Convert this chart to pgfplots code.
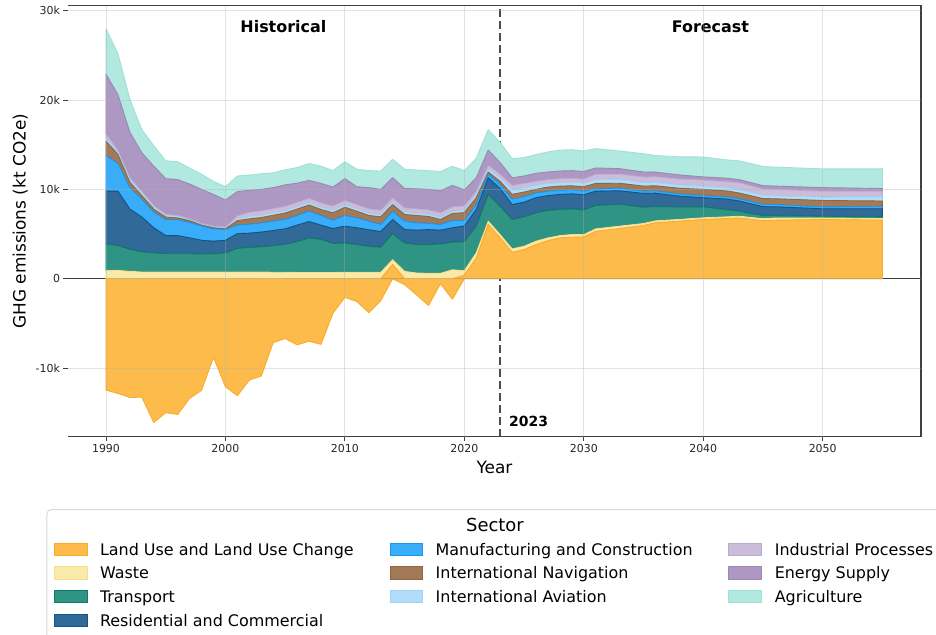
\documentclass[border=0pt]{standalone}
\usepackage{fontspec}
\setmainfont{DejaVu Sans}
\usepackage{pgfplots}
\usepackage{pgfplotstable}
\pgfplotsset{compat=1.18}

\definecolor{cL}{HTML}{FDBB4B}\definecolor{eL}{HTML}{F9AC2A}
\definecolor{cW}{HTML}{F9EAAA}\definecolor{eW}{HTML}{F5E08C}
\definecolor{cT}{HTML}{2F9483}\definecolor{eT}{HTML}{117A68}
\definecolor{cR}{HTML}{316A98}\definecolor{eR}{HTML}{135487}
\definecolor{cM}{HTML}{3AADFA}\definecolor{eM}{HTML}{1C95EA}
\definecolor{cN}{HTML}{A27A58}\definecolor{eN}{HTML}{8E6642}
\definecolor{cA}{HTML}{B2DDFA}\definecolor{eA}{HTML}{9FD2F5}
\definecolor{cI}{HTML}{CBBCDA}\definecolor{eI}{HTML}{BCAAD0}
\definecolor{cE}{HTML}{AD98C3}\definecolor{eE}{HTML}{9C86B6}
\definecolor{cG}{HTML}{B1E9E1}\definecolor{eG}{HTML}{9EE2D7}
\definecolor{gridc}{HTML}{B0B0B0}

% kt CO2e per sector; Lpos / Lneg = positive and negative part of land use
\pgfplotstableread{
year Lpos Lneg waste trans res manuf nav aviat indus energy agri
1990 0 -12470 900 3000 5900 4000 1600 300 500 6700 5100
1991 0 -12850 930 2770 6100 3100 1000 200 300 6200 4600
1992 0 -13300 820 2480 4500 2400 600 300 200 5100 3700
1993 0 -13260 750 2250 3900 2000 400 300 200 4300 2600
1994 0 -16100 750 2150 2800 1750 350 250 150 4400 2300
1995 0 -15000 750 2050 2030 1770 300 200 100 4000 2000
1996 0 -15200 750 2050 2030 1770 200 170 130 4000 2000
1997 0 -13400 750 2050 1770 1730 200 100 100 3900 1800
1998 0 -12500 750 2020 1530 1600 100 70 130 3800 1700
1999 0 -8800 750 2020 1430 1380 120 60 140 3540 1460
2000 0 -12100 750 2150 1400 1200 80 70 150 3000 1500
2001 0 -13100 750 2650 1650 950 500 200 350 2700 1750
2002 0 -11350 750 2750 1600 1000 600 250 500 2450 1700
2003 0 -10900 750 2830 1640 1030 600 250 500 2400 1750
2004 0 -7150 720 2980 1700 1050 650 250 500 2350 1650
2005 0 -6700 720 3130 1730 1070 700 250 500 2400 1700
2006 0 -7400 700 3450 1850 1080 720 250 500 2150 1750
2007 0 -7000 700 3870 1830 1160 690 250 500 2000 1900
2008 0 -7350 700 3700 1600 1080 670 250 500 2170 1930
2009 0 -3860 700 3250 1670 930 830 250 500 2130 1840
2010 0 -2100 710 3290 1880 1200 920 250 500 2450 1900
2011 0 -2550 710 3110 1880 1120 740 250 500 1990 1950
2012 0 -3800 710 2920 1850 960 640 250 500 2370 1900
2013 0 -2470 710 2810 1750 800 860 250 500 2320 2060
2014 1600 0 530 2930 1570 930 740 250 500 2260 2070
2015 0 -670 820 3180 1500 940 750 250 500 2160 2150
2016 0 -1800 640 3180 1610 830 820 250 500 2240 2100
2017 0 -3000 600 3220 1680 700 770 250 500 2280 2100
2018 0 -560 600 3300 1530 640 560 250 500 2460 2160
2019 0 -2300 1000 3080 1620 800 800 250 500 2400 2150
2020 400 0 500 3250 1750 600 900 250 500 1800 2150
2021 2300 0 600 3000 1850 550 770 370 360 1500 2200
2022 6100 0 340 3000 1860 400 250 350 400 1700 2300
2023 4570 0 370 3160 2000 460 340 400 400 1300 2250
2024 2960 0 380 3290 1670 600 540 560 450 850 2150
2025 3260 0 370 3300 1640 610 520 500 470 830 2060
2026 3820 0 380 3180 1690 530 400 450 450 900 2100
2027 4270 0 300 3070 1660 500 460 410 430 850 2250
2028 4570 0 260 2920 1690 450 480 380 450 860 2340
2029 4640 0 300 2890 1670 450 450 400 450 850 2350
2030 4680 0 260 2760 1700 400 500 400 450 850 2300
2031 5300 0 280 2620 1600 270 600 430 600 700 2170
2033 5620 0 270 2450 1500 300 550 430 600 600 1980
2035 5960 0 220 1820 1550 250 570 380 650 550 2050
2036 6260 0 220 1600 1500 260 560 380 650 500 1870
2038 6440 0 200 1400 1200 240 650 370 670 450 2030
2040 6630 0 190 1230 1020 230 700 370 680 350 2230
2042 6740 0 190 800 1180 230 680 370 680 380 2050
2043 6800 0 200 560 1140 250 650 400 750 350 2100
2045 6500 0 220 350 1000 250 650 370 720 360 2150
2046 6550 0 250 280 970 250 650 350 700 370 2130
2050 6630 0 170 200 830 220 710 380 660 400 2100
2055 6550 0 190 190 900 230 640 480 620 300 2200
}\data

\pgfplotsset{
  base/.style={scale only axis, width=853bp, height=431bp,
    xmin=1986.82, xmax=2058.23, ymin=-17690, ymax=30570,
    scaled x ticks=false, scaled y ticks=false,
    at={(0,0)}, anchor=south west},
  area/.style={line width=0.9bp, line join=round},
}
\newcommand{\ent}[2]{\makebox[#1][l]{\rule[-2bp]{0pt}{15.7bp}\smash{#2}}}

\begin{document}
\begin{tikzpicture}
% legend frame and title
\draw[draw=black!15, line width=1bp, rounded corners=4bp, fill=white]
  (-21bp,-73bp) rectangle (905bp,-215bp);
\node[font=\fontsize{18}{21}\selectfont, anchor=base] at (427bp,-94.7bp) {Sector};

% negative part of land use
\begin{axis}[base, hide axis, clip=false]
  \addplot[area, fill=cL, draw=eL] table[x=year, y=Lneg] {\data} \closedcycle;
\end{axis}

\begin{axis}[base, clip=false, axis on top,
  stack plots=y,
  axis line style={draw=none},
  grid=major, grid style={draw=gridc, opacity=0.35, line width=0.8bp},
  tick align=outside, major tick length=4.5bp,
  tick style={draw=black!75, line width=0.8bp},
  xtick pos=bottom, ytick pos=left,
  xtick={1990,2000,2010,2020,2030,2040,2050},
  xticklabels={1990,2000,2010,2020,2030,2040,2050},
  ytick={-10000,0,10000,20000,30000},
  yticklabels={-10k,0,10k,20k,30k},
  /pgf/number format/assume math mode=true,
  ticklabel style={font=\fontsize{11}{13}\selectfont, text=black!85},
  xlabel={Year}, ylabel={GHG emissions (kt CO2e)},
  label style={font=\fontsize{17}{20}\selectfont},
  xlabel style={at={(axis description cs:0.5,-0.0557)}, anchor=north, inner sep=0pt},
  ylabel style={at={(axis description cs:-0.0469,0.5)}, anchor=south, inner sep=0pt},
  legend image code/.code={\draw[#1, line width=0.6bp] (0bp,-6bp) rectangle (32.6bp,6.3bp);},
  legend columns=3, legend cell align=left,
  legend style={at={(axis description cs:-0.01641,-0.2427)}, anchor=north west,
    draw=none, fill=none, inner sep=0pt, outer sep=0pt, row sep=8bp,
    font=\fontsize{16}{19}\selectfont,
    nodes={inner sep=0pt, text depth={}},
    /tikz/every odd column/.append style={column sep=12.8bp},
    /tikz/every even column/.append style={column sep=0bp}},
]
  \addplot[area, fill=cL, draw=eL, forget plot] table[x=year, y=Lpos] {\data} \closedcycle;
  \addplot[area, fill=cW, draw=eW, forget plot] table[x=year, y=waste] {\data} \closedcycle;
  \addplot[area, fill=cT, draw=eT, forget plot] table[x=year, y=trans] {\data} \closedcycle;
  \addplot[area, fill=cR, draw=eR, forget plot] table[x=year, y=res] {\data} \closedcycle;
  \addplot[area, fill=cM, draw=eM, forget plot] table[x=year, y=manuf] {\data} \closedcycle;
  \addplot[area, fill=cN, draw=eN, forget plot] table[x=year, y=nav] {\data} \closedcycle;
  \addplot[area, fill=cA, draw=eA, forget plot] table[x=year, y=aviat] {\data} \closedcycle;
  \addplot[area, fill=cI, draw=eI, forget plot] table[x=year, y=indus] {\data} \closedcycle;
  \addplot[area, fill=cE, draw=eE, forget plot] table[x=year, y=energy] {\data} \closedcycle;
  \addplot[area, fill=cG, draw=eG, forget plot] table[x=year, y=agri] {\data} \closedcycle;

  % legend, filled column by column as in the original
  \addlegendimage{fill=cL, draw=eL}\addlegendentry{\ent{289.7bp}{Land Use and Land Use Change}}
  \addlegendimage{fill=cM, draw=eM}\addlegendentry{\ent{292.6bp}{Manufacturing and Construction}}
  \addlegendimage{fill=cI, draw=eI}\addlegendentry{\ent{0bp}{Industrial Processes}}
  \addlegendimage{fill=cW, draw=eW}\addlegendentry{\ent{289.7bp}{Waste}}
  \addlegendimage{fill=cN, draw=eN}\addlegendentry{\ent{292.6bp}{International Navigation}}
  \addlegendimage{fill=cE, draw=eE}\addlegendentry{\ent{0bp}{Energy Supply}}
  \addlegendimage{fill=cT, draw=eT}\addlegendentry{\ent{289.7bp}{Transport}}
  \addlegendimage{fill=cA, draw=eA}\addlegendentry{\ent{292.6bp}{International Aviation}}
  \addlegendimage{fill=cG, draw=eG}\addlegendentry{\ent{0bp}{Agriculture}}
  \addlegendimage{fill=cR, draw=eR}\addlegendentry{\ent{289.7bp}{Residential and Commercial}}

  % frame (no left spine), zero line, 2023 marker and labels
  \draw[black!75, line width=1.3bp] (rel axis cs:0,1) -- (rel axis cs:1,1)
    -- (rel axis cs:1,0) -- (rel axis cs:0,0);
  \draw[black, line width=1.3bp] (axis cs:1986.82,0) -- (axis cs:2058.23,0);
  \draw[black!70, line width=2.2bp, dash pattern=on 8bp off 4bp]
    (axis cs:2023,-17690) -- (axis cs:2023,30570);
  \node[font=\bfseries\fontsize{16}{19}\selectfont, anchor=base] at (axis cs:2004.85,27590) {Historical};
  \node[font=\bfseries\fontsize{16}{19}\selectfont, anchor=base] at (axis cs:2040.6,27590) {Forecast};
  \node[font=\bfseries\fontsize{14}{17}\selectfont, anchor=base west, inner sep=0pt] at (axis cs:2023.74,-16570) {2023};
\end{axis}

\pgfresetboundingbox
\useasboundingbox (-68bp,-198.3bp) rectangle (868bp,436.7bp);
\end{tikzpicture}
\end{document}
